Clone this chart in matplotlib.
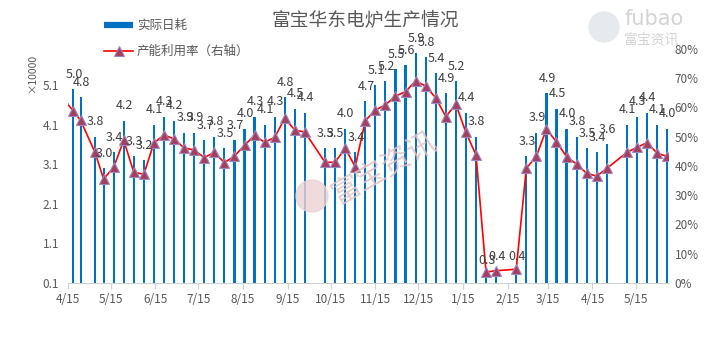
import numpy as np
import pandas as pd
import matplotlib
matplotlib.use("Agg")
import matplotlib.pyplot as plt
import matplotlib.dates as mdates
from matplotlib.lines import Line2D
from matplotlib.patches import Circle

plt.rcParams['font.family'] = ['Noto Sans CJK SC', 'DejaVu Sans']

# weekly sampling dates (first point only feeds the line, it sits left of the axis)
dates = pd.to_datetime([
    "2016-04-12", "2016-04-19", "2016-04-24", "2016-05-04", "2016-05-10",
    "2016-05-17", "2016-05-24", "2016-05-31", "2016-06-07", "2016-06-14",
    "2016-06-21", "2016-06-28", "2016-07-05", "2016-07-12", "2016-07-19",
    "2016-07-26", "2016-08-02", "2016-08-09", "2016-08-16", "2016-08-23",
    "2016-08-30", "2016-09-06", "2016-09-13", "2016-09-20", "2016-09-27",
    "2016-10-11", "2016-10-18", "2016-10-25", "2016-11-01", "2016-11-08",
    "2016-11-15", "2016-11-22", "2016-11-29", "2016-12-06", "2016-12-13",
    "2016-12-20", "2016-12-27", "2017-01-03", "2017-01-10", "2017-01-17",
    "2017-01-24", "2017-01-31", "2017-02-07", "2017-02-21", "2017-02-28",
    "2017-03-07", "2017-03-14", "2017-03-21", "2017-03-28", "2017-04-04",
    "2017-04-11", "2017-04-18", "2017-04-25", "2017-05-09", "2017-05-16",
    "2017-05-23", "2017-05-30", "2017-06-06",
])

# actual daily consumption (x10000)
daily_use = [
    np.nan, 5.0, 4.8, 3.8, 3.0, 3.4, 4.2, 3.3, 3.2, 4.1,
    4.3, 4.2, 3.9, 3.9, 3.7, 3.8, 3.5, 3.7, 4.0, 4.3,
    4.1, 4.3, 4.8, 4.5, 4.4, 3.5, 3.5, 4.0, 3.4, 4.7,
    5.1, 5.2, 5.5, 5.6, 5.9, 5.8, 5.4, 4.9, 5.2, 4.4,
    3.8, 0.3, 0.4, 0.4, 3.3, 3.9, 4.9, 4.5, 4.0, 3.8,
    3.5, 3.4, 3.6, 4.1, 4.3, 4.4, 4.1, 4.0,
]

# capacity utilisation (%), right axis
util_rate = [
    62.8, 58.7, 55.5, 44.6, 35.5, 39.5, 48.7, 37.8, 37.1, 47.8,
    50.5, 49.2, 46.1, 45.4, 42.8, 44.6, 41.1, 43.3, 47.0, 50.4,
    48.0, 49.7, 56.2, 52.2, 51.5, 41.2, 41.2, 46.0, 39.7, 55.4,
    59.0, 60.8, 63.8, 65.3, 69.0, 67.2, 63.2, 56.8, 61.0, 51.4,
    43.7, 3.75, 4.2, 4.7, 39.1, 43.3, 52.5, 48.2, 43.1, 40.6,
    37.4, 36.5, 39.1, 44.6, 46.3, 47.9, 44.3, 43.2,
]

left_ticks = [0.1, 1.1, 2.1, 3.1, 4.1, 5.1]
right_ticks = [0, 10, 20, 30, 40, 50, 60, 70, 80]

BLUE = "#0070C0"
GREY = "#595959"
AXIS = "#D0D0D0"

fig = plt.figure(figsize=(7.26, 3.51), dpi=100)
ax = fig.add_axes([0.0932, 0.1937, 0.8268, 0.6678])
ax2 = ax.twinx()

ax.bar(dates, daily_use, width=1.5, color=BLUE, zorder=2)
ax2.plot(dates, util_rate, color="#FF0000", lw=1.2, marker="^", ms=7,
         mfc="#A4405E", mec="#9C88C4", mew=0.8, zorder=3)

for d, v in zip(mdates.date2num(dates), daily_use):
    if np.isnan(v):
        continue
    ax2.annotate(f"{v:.1f}", xy=(d, v), xycoords=ax.transData,
                 xytext=(0.5, 6), textcoords="offset points",
                 ha="center", va="bottom", fontsize=9, color="#404040",
                 zorder=5)

x0 = pd.Timestamp("2016-04-15")
x1 = pd.Timestamp("2017-06-06 12:00")
ax.set_xlim(x0, x1)
ax.set_ylim(0.1, 6.02)
ax2.set_ylim(0, 80)

xt = [pd.Timestamp(2016 + (3 + i) // 12, (3 + i) % 12 + 1, 15) for i in range(14)]
ax.set_xticks(xt)
ax.set_xticklabels([f"{t.month}/15" for t in xt])
ax.set_yticks(left_ticks)
ax.set_yticklabels([f"{t:.1f}" for t in left_ticks])
ax2.set_yticks(right_ticks)
ax2.set_yticklabels([f"{t}%" for t in right_ticks])

for a in (ax, ax2):
    for s in ("top", "left", "right", "bottom"):
        a.spines[s].set_visible(False)
ax.spines["bottom"].set_visible(True)
ax.spines["bottom"].set_color(AXIS)

ax.tick_params(axis="x", colors=AXIS, length=4, pad=3, labelsize=8.5,
               labelcolor=GREY)
ax.tick_params(axis="y", length=0, pad=6, labelsize=8.5, labelcolor=GREY)
ax2.tick_params(axis="y", length=0, pad=5, labelsize=8.5, labelcolor=GREY)

fig.text(0.044, 0.79, "×10000", rotation=90, ha="center", va="center",
         fontsize=7.5, color=GREY)

fig.text(0.503, 0.94, "富宝华东电炉生产情况", ha="center", va="center",
         fontsize=13.5, color=GREY)

handles = [
    Line2D([], [], color=BLUE, lw=4.5, solid_capstyle="butt"),
    Line2D([], [], color="#FF0000", lw=1.2, marker="^", ms=7,
           mfc="#A4405E", mec="#9C88C4", mew=0.8),
]
fig.legend(handles, ["实际日耗", "产能利用率（右轴）"], loc="upper left",
           bbox_to_anchor=(0.128, 0.978), frameon=False, fontsize=9,
           labelspacing=1.05, handlelength=2.3, handletextpad=0.3,
           labelcolor=GREY)

# watermarks
fig.text(0.53, 0.52, "富宝资讯", rotation=30, ha="center", va="center",
         fontsize=21, color="#E6C4C4", alpha=0.85)
fig.patches.append(Circle((312, 351 - 196), 16, transform=None,
                          color="#EBD2D2", alpha=0.8, zorder=0))
fig.patches.append(Circle((604, 351 - 27), 15, transform=None,
                          color="#E6EAEE", zorder=0))
fig.text(0.86, 0.945, "fubao", fontsize=15, color="#D4D4D4",
         ha="left", va="center", family="DejaVu Sans")
fig.text(0.86, 0.885, "富宝资讯", fontsize=10, color="#D4D4D4",
         ha="left", va="center")

fig.savefig("out.png", dpi=100)
